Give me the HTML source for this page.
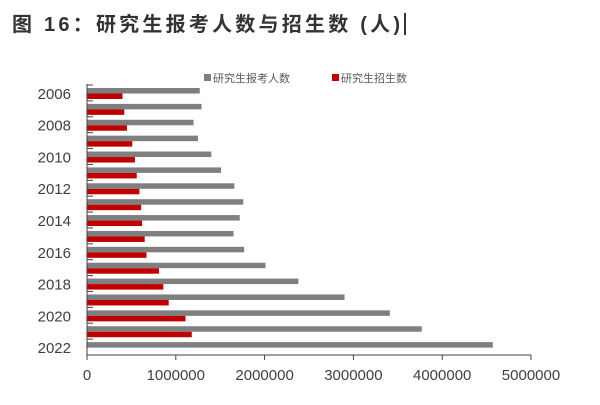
<!DOCTYPE html>
<html><head><meta charset="utf-8"><style>
body{margin:0;background:#fff;}
svg text{font-family:"Liberation Sans","Noto Sans CJK SC",sans-serif;}
</style></head><body>
<svg width="600" height="400" xmlns="http://www.w3.org/2000/svg">
<text x="12" y="31" font-size="20" font-weight="bold" fill="#333" textLength="388" lengthAdjust="spacing">图 16：研究生报考人数与招生数 (人)</text>
<rect x="404" y="13" width="2" height="22" fill="#333"/>
<g>
<rect x="204" y="74" width="7" height="7" fill="#7f7f7f"/>
<text x="213" y="82" font-size="11" fill="#595959">研究生报考人数</text>
<rect x="332" y="74" width="7" height="7" fill="#c00000"/>
<text x="341" y="82" font-size="11" fill="#595959">研究生招生数</text>
</g>
<g id="plot"></g>
</svg>
<script>
const years=["2006","2007","2008","2009","2010","2011","2012","2013","2014","2015","2016","2017","2018","2019","2020","2021","2022"];
const applicants=[1270000,1290000,1200000,1250000,1400000,1510000,1660000,1760000,1720000,1650000,1770000,2010000,2380000,2900000,3410000,3770000,4570000];
const admissions=[400000,420000,450000,510000,540000,560000,590000,610000,620000,650000,670000,810000,860000,920000,1110000,1180000,null];
const xTicks=[0,1000000,2000000,3000000,4000000,5000000];
const NS="http://www.w3.org/2000/svg";
const g=document.getElementById('plot');
const x0=87,x1=531,yTop=85,yBot=355,maxV=5000000;
const xs=v=>x0+v/maxV*(x1-x0);
const band=(yBot-yTop)/years.length;
function mk(t,a){const e=document.createElementNS(NS,t);for(const k in a)e.setAttribute(k,a[k]);g.appendChild(e);return e;}
years.forEach((y,i)=>{
 const yb=yTop+i*band;
 const r1=mk('rect',{x:x0,y:yb+3,width:xs(applicants[i])-x0,height:5.5,fill:'#7f7f7f'});
 
 
 if(admissions[i]!=null){
  const r2=mk('rect',{x:x0,y:yb+8.5,width:xs(admissions[i])-x0,height:5.5,fill:'#c00000'});
  
  
 }
 const tk=mk('line',{x1:x0,x2:x0+6,y1:yb,y2:yb,stroke:'#404040','stroke-width':1});
 
 
 if(i%2===0){
  const t=mk('text',{x:71,y:yb+band/2+6,'text-anchor':'end','font-size':15,fill:'#404040'});
  t.textContent=y;
  
  
 }
});
const ya=mk('line',{x1:x0,x2:x0,y1:yTop-1,y2:yBot+5,stroke:'#404040','stroke-width':1});


const xa=mk('line',{x1:x0,x2:x1,y1:yBot,y2:yBot,stroke:'#404040','stroke-width':1});


xTicks.forEach(v=>{
 const l=mk('line',{x1:xs(v),x2:xs(v),y1:yBot,y2:yBot+5,stroke:'#404040','stroke-width':1});
 
 
 const t=mk('text',{x:xs(v),y:yBot+25,'text-anchor':'middle','font-size':15,fill:'#404040'});
 t.textContent=String(v);
 
 
});
</script>
</body></html>
